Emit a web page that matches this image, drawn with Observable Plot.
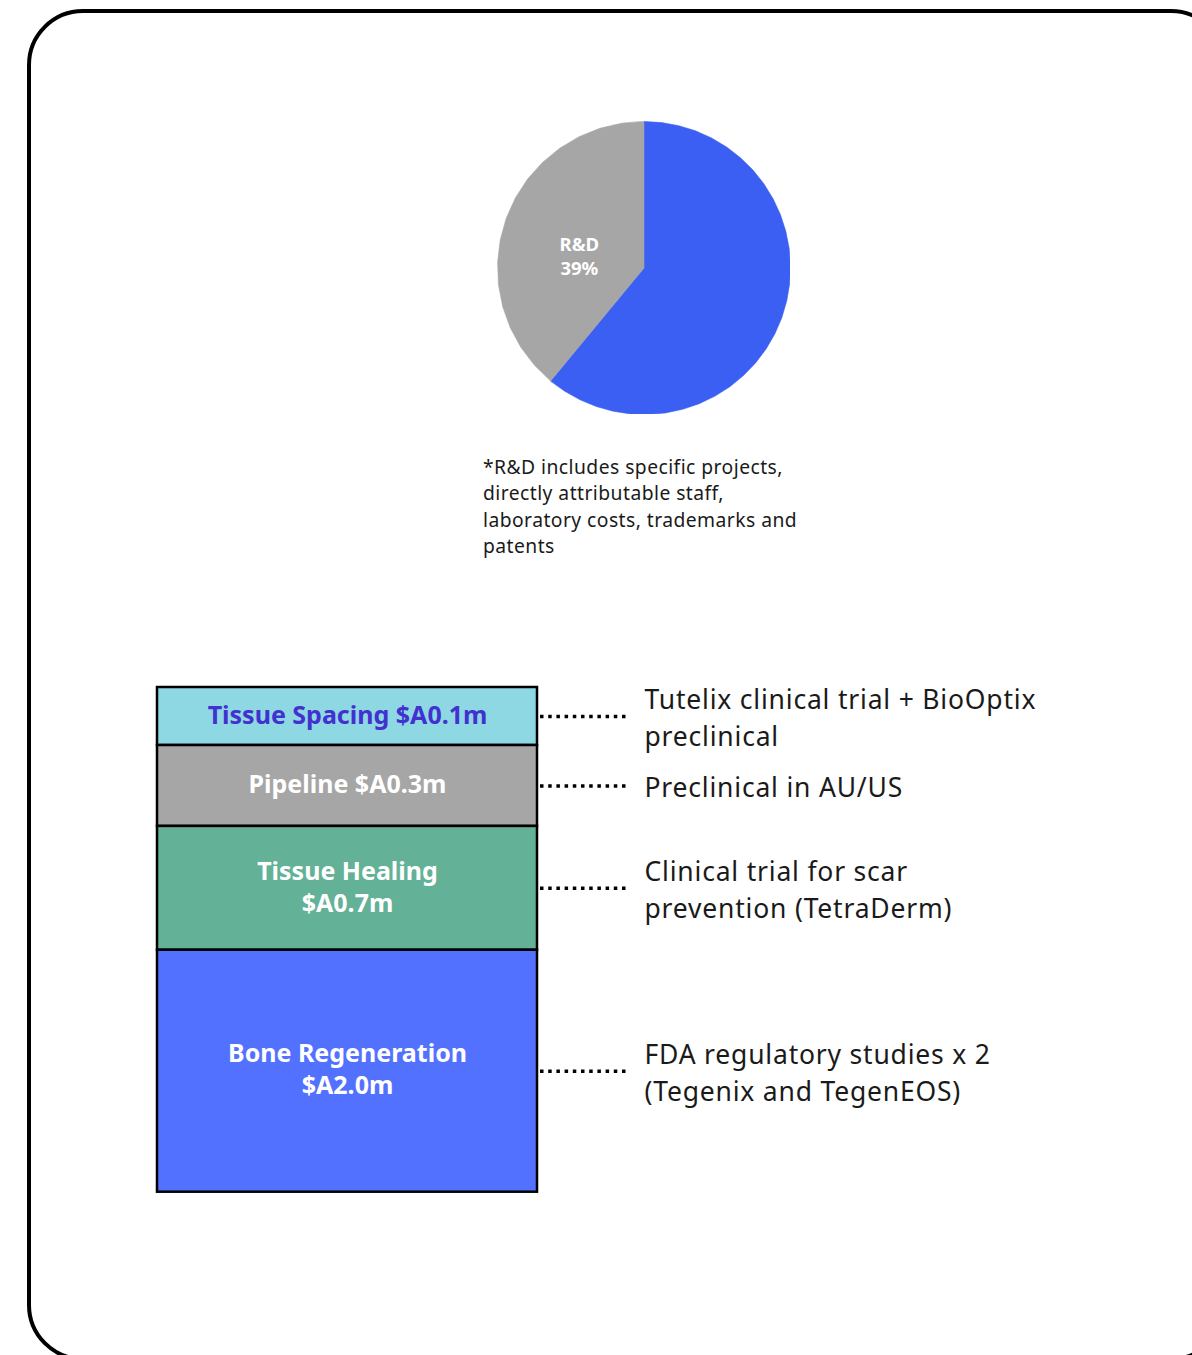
<!DOCTYPE html>
<html><head><meta charset="utf-8">
<script src="https://cdn.jsdelivr.net/npm/d3@7"></script>
<script src="https://cdn.jsdelivr.net/npm/@observablehq/plot@0.6"></script>
<style>
html,body{margin:0;padding:0;background:#fff;}
body{width:1192px;height:1355px;position:relative;overflow:hidden;font-family:"Noto Sans", sans-serif;}
#frame{position:absolute;left:27px;top:9px;width:1200px;height:1352px;box-sizing:border-box;border:4px solid #000;border-radius:56px;}
#pie{position:absolute;left:497px;top:121px;}
#note{position:absolute;left:483px;top:454px;font-size:19.3px;line-height:26.3px;letter-spacing:0.45px;color:#1a1a1a;}
#bar{position:absolute;left:0;top:640px;}
svg text{font-family:"Noto Sans", sans-serif;}
g.nt text, g.nt tspan{letter-spacing:0.8px;}
</style></head><body>
<div id="frame"></div>
<div id="pie"></div>
<div id="note">*R&amp;D includes specific projects,<br>directly attributable staff,<br>laboratory costs, trademarks and<br>patents</div>
<div id="bar"></div>
<script>
// ---- Pie data ----
const pieLabels = ["Other", "R&D"];
const pieValues = [61, 39];
const pieText = ["", "R&D\n39%"];
const pieColors = ["#3b5ff2", "#a6a6a6"];

// ---- Stacked bar data ----
const segments = ["Tissue Spacing", "Pipeline", "Tissue Healing", "Bone Regeneration"];
const amounts = [0.1, 0.3, 0.7, 2.0];
const segmentLabels = ["Tissue Spacing $A0.1m", "Pipeline $A0.3m", "Tissue Healing\n$A0.7m", "Bone Regeneration\n$A2.0m"];
const segmentNotes = [
  "Tutelix clinical trial + BioOptix\npreclinical",
  "Preclinical in AU/US",
  "Clinical trial for scar\nprevention (TetraDerm)",
  "FDA regulatory studies x 2\n(Tegenix and TegenEOS)"
];
const segmentColors = ["#8dd8e2", "#a6a6a6", "#63b197", "#5271ff"];
const segmentTextColors = ["#4331cf", "#ffffff", "#ffffff", "#ffffff"];

// ---- Pie (geo polygons on a polar azimuthal projection) ----
const R = 146.5;
const arcs = d3.pie().sort(null).value(d => d)(pieValues);
const lonOf = a => 180 - a * 180 / Math.PI;
const pieFeatures = arcs.map((a, i) => {
  const lo = lonOf(a.endAngle), hi = lonOf(a.startAngle);
  const ring = [[lo, 0], [lo, 90], [hi, 90], [hi, 0]];
  if (hi - lo > 170) ring.push([(hi + lo) / 2, 0]);
  ring.push([lo, 0]);
  return {type: "Feature", properties: {label: pieLabels[i], color: pieColors[i]},
          geometry: {type: "Polygon", coordinates: [ring]}};
});
const pieLabelData = arcs.map((a, i) => ({
  lon: lonOf((a.startAngle + a.endAngle) / 2), lat: 90 - 0.44 * 90, text: pieText[i]
})).filter(d => d.text);

const pie = Plot.plot({
  width: 2 * R, height: 2 * R, margin: 0,
  projection: d3.geoAzimuthalEquidistant().rotate([0, -90]).scale(R / (Math.PI / 2)).translate([R, R]),
  marks: [
    Plot.geo(pieFeatures, {fill: d => d.properties.color, stroke: d => d.properties.color, strokeWidth: 0.6}),
    Plot.text(pieLabelData, {x: "lon", y: "lat", text: "text", fill: "#fff", fontSize: 18.5, fontWeight: 700, lineHeight: 1.3, dx: -4, dy: 9})
  ]
});
document.getElementById("pie").append(pie);

// ---- Bar ----
const k = 0.63;
const ends = Array.from(d3.cumsum(amounts));
const total = ends[ends.length - 1];
const rows = segments.map((s, i) => {
  const y1 = ends[i] - amounts[i], y2 = ends[i];
  return {segment: s, y1, y2,
    mid: Math.pow((Math.pow(y1, k) + Math.pow(y2, k)) / 2, 1 / k),
    label: segmentLabels[i], note: segmentNotes[i],
    color: segmentColors[i], textColor: segmentTextColors[i]};
});
const W = 1192, barL = 157, barR = 537, unit = barR - barL;
const linkX1 = 1 + 3 / unit, linkX2 = 1 + 93 / unit, noteX = 1 + 107 / unit;

const bar = Plot.plot({
  width: W, height: 580,
  marginLeft: barL, marginRight: W - barR, marginTop: 47, marginBottom: 28.3,
  x: {domain: [0, 1], axis: null},
  y: {type: "pow", exponent: k, domain: [0, total], reverse: true, axis: null},
  marks: [
    Plot.rect(rows, {x1: 0, x2: 1, y1: "y1", y2: "y2", fill: d => d.color, stroke: "#000", strokeWidth: 2.5}),
    Plot.text(rows, {x: 0.5, y: "mid", text: "label", fill: d => d.textColor, fontSize: 25, fontWeight: 700, lineHeight: 1.28, dy: -3}),
    Plot.ruleY(rows, {y: "mid", x1: linkX1, x2: linkX2, stroke: "#000", strokeWidth: 3.5, strokeDasharray: "3.5,4.7"}),
    Plot.text(rows, {x: noteX, y: "mid", text: "note", textAnchor: "start", fill: "#1a1a1a", fontSize: 26.5, lineHeight: 1.4, dy: -1, className: "nt"})
  ]
});
document.getElementById("bar").append(bar);
</script>
</body></html>
